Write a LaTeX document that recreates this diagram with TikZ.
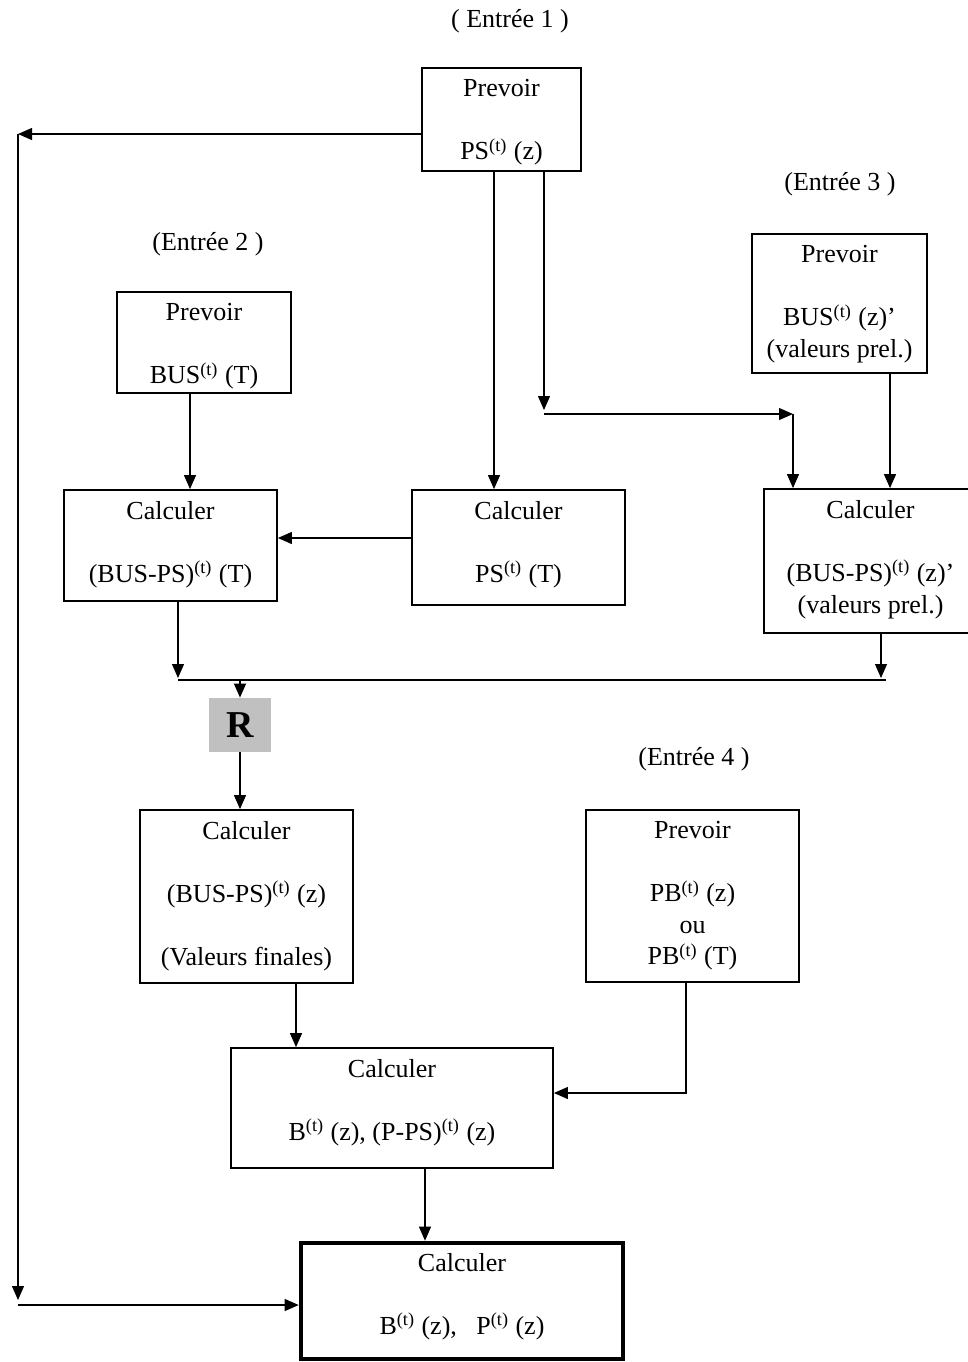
\documentclass[tikz,border=0pt]{standalone}
\usepackage{fontspec}
\setmainfont{Liberation Serif}
\usetikzlibrary{positioning,arrows.meta}
\definecolor{grisR}{RGB}{192,192,192}
\tikzset{
  boite/.style 2 args={draw, line width=0.9pt, minimum width=#1*0.5pt, minimum height=#2*0.5pt, inner sep=0pt},
  texte/.style={align=center, inner sep=0pt, font=\fontsize{13}{15.75}\selectfont},
  fleche/.style={-{Triangle[length=7pt,width=6pt]}, line width=0.6pt}
}
\begin{document}
\begin{tikzpicture}[x=0.5pt, y=-0.5pt]
    \useasboundingbox (0,0) rectangle (968,1362);

    % entrees
    \node[texte] (ent1) at (510,21) {( Entrée 1 )};
    \node[texte] (ent2) at (208,244) {(Entrée 2 )};
    \node[texte] (ent3) at (840,184) {(Entrée 3 )};
    \node[texte] (ent4) at (694,759) {(Entrée 4 )};

    % boites
    \node[boite={159}{103}] (ps) at (501.5,119.5) {};
    \node[texte, below=6pt of ps.north] (psTxt) {Prevoir\\[15.75pt]PS\textsuperscript{(t)} (z)};
    \node[boite={174}{101}] (busT) at (204,342.5) {};
    \node[texte, below=6pt of busT.north] (busTTxt) {Prevoir\\[15.75pt]BUS\textsuperscript{(t)} (T)};
    \node[boite={175}{139}] (busz) at (839.5,303.5) {};
    \node[texte, below=6pt of busz.north] (buszTxt) {Prevoir\\[15.75pt]BUS\textsuperscript{(t)} (z)’\\(valeurs prel.)};
    \node[boite={213}{111}] (dT) at (170.5,545.5) {};
    \node[texte, below=6pt of dT.north] (dTTxt) {Calculer\\[15.75pt](BUS-PS)\textsuperscript{(t)} (T)};
    \node[boite={213}{115}] (psT) at (518.5,547.5) {};
    \node[texte, below=6pt of psT.north] (psTTxt) {Calculer\\[15.75pt]PS\textsuperscript{(t)} (T)};
    \node[boite={213}{144}] (dz) at (870.5,561) {};
    \node[texte, below=6pt of dz.north] (dzTxt) {Calculer\\[15.75pt](BUS-PS)\textsuperscript{(t)} (z)’\\(valeurs prel.)};
    \node[fill=grisR, minimum width=31pt, minimum height=27pt, inner sep=0pt,
          font=\fontsize{19}{22}\selectfont\bfseries] (R) at (240,725) {R};
    \node[boite={213}{173}] (dzf) at (246.5,896.5) {};
    \node[texte, below=6pt of dzf.north] (dzfTxt) {Calculer\\[15.75pt](BUS-PS)\textsuperscript{(t)} (z)\\[15.75pt](Valeurs finales)};
    \node[boite={213}{172}] (pb) at (692.5,896) {};
    \node[texte, below=6pt of pb.north] (pbTxt) {Prevoir\\[15.75pt]PB\textsuperscript{(t)} (z)\\ou\\PB\textsuperscript{(t)} (T)};
    \node[boite={322}{120}] (bp) at (392,1108) {};
    \node[texte, below=6pt of bp.north] (bpTxt) {Calculer\\[15.75pt]B\textsuperscript{(t)} (z), (P-PS)\textsuperscript{(t)} (z)};
    \node[boite={322}{116}, line width=2.3pt] (fin) at (462,1301) {};
    \node[texte, below=6pt of fin.north] (finTxt) {Calculer\\[15.75pt]B\textsuperscript{(t)} (z),\ \ \ P\textsuperscript{(t)} (z)};

    % points de passage
    \coordinate (gA) at (18,134);
    \coordinate (gB) at (18,1300);
    \coordinate (gC) at (18,1305);
    \coordinate (xa) at (494,0);
    \coordinate (kA) at (544,410);
    \coordinate (kB) at (793,414);
    \coordinate (xc) at (890,0);
    \coordinate (xd) at (190,0);
    \coordinate (ye) at (0,538);
    \coordinate (jA) at (178,678);
    \coordinate (jB) at (881,678);
    \coordinate (hA) at (178,680);
    \coordinate (hB) at (886,680);
    \coordinate (xf) at (296,0);
    \coordinate (pA) at (686,1093);
    \coordinate (xg) at (425,0);

    % liaisons
    \draw[fleche] (gA -| ps.west) -- (gA);
    \draw[fleche] (gA) -- (gB);
    \draw[fleche] (gC) -- (gC -| fin.west);
    \draw[fleche] (xa |- ps.south) -- (xa |- psT.north);
    \draw[fleche] (kA |- ps.south) -- (kA);
    \draw[fleche] (kA |- kB) -- (kB);
    \draw[fleche] (kB) -- (kB |- dz.north);
    \draw[fleche] (xc |- busz.south) -- (xc |- dz.north);
    \draw[fleche] (xd |- busT.south) -- (xd |- dT.north);
    \draw[fleche] (ye -| psT.west) -- (ye -| dT.east);
    \draw[fleche] (jA |- dT.south) -- (jA);
    \draw[fleche] (jB |- dz.south) -- (jB);
    \draw[line width=0.6pt] (hA) -- (hB);
    \draw[fleche] (hA -| R.north) -- (R.north);
    \draw[fleche] (R.south) -- (R.south |- dzf.north);
    \draw[fleche] (xf |- dzf.south) -- (xf |- bp.north);
    \draw[fleche] (pA |- pb.south) -- (pA) -- (pA -| bp.east);
    \draw[fleche] (xg |- bp.south) -- (xg |- fin.north);
\end{tikzpicture}
\end{document}
